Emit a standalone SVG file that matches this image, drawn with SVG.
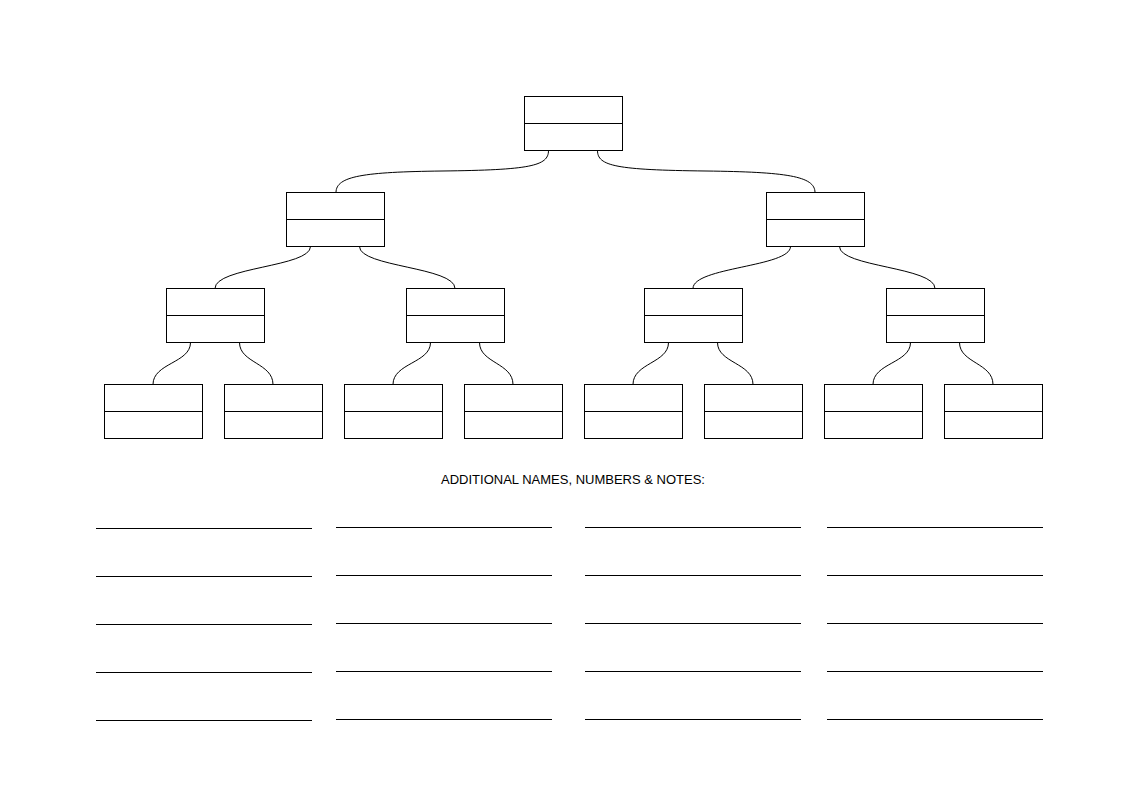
<svg xmlns="http://www.w3.org/2000/svg" width="1123" height="794" viewBox="0 0 1123 794">
<style>
.box rect{fill:#fff;stroke:#000;stroke-width:1}
.box line{stroke:#000;stroke-width:1}
#connectors path{fill:none;stroke:#000;stroke-width:1}
.rule{stroke:#000;stroke-width:1.2}
.title{font-family:"Liberation Sans",Arial,sans-serif;font-size:13px;fill:#000}
</style>
<rect x="0" y="0" width="1123" height="794" fill="#fff"/>
<g id="connectors">
<path d="M548.5,150.5 C548.5,166 530,170 442,171 C364,172 336,176 336,192.5"/>
<path d="M597.5,150.5 C597.5,166 616,170 706,171 C786,172 815,176 815,192.5"/>
<path d="M310.5,246.5 C310.5,267 215,267 215,288.5"/>
<path d="M359.5,246.5 C359.5,267 455,267 455,288.5"/>
<path d="M790.5,246.5 C790.5,267 693,267 693,288.5"/>
<path d="M839.5,246.5 C839.5,267 935,267 935,288.5"/>
<path d="M190.5,342.5 C190.5,363 153,363 153,384.5"/>
<path d="M239.5,342.5 C239.5,363 273,363 273,384.5"/>
<path d="M430.5,342.5 C430.5,363 393,363 393,384.5"/>
<path d="M479.5,342.5 C479.5,363 513,363 513,384.5"/>
<path d="M668.5,342.5 C668.5,363 633,363 633,384.5"/>
<path d="M717.5,342.5 C717.5,363 753,363 753,384.5"/>
<path d="M910.5,342.5 C910.5,363 873,363 873,384.5"/>
<path d="M959.5,342.5 C959.5,363 993,363 993,384.5"/>
</g>
<g id="n0" class="box"><rect x="524.5" y="96.5" width="98" height="54"/><line x1="524.5" y1="123.5" x2="622.5" y2="123.5"/></g>
<g id="n1" class="box"><rect x="286.5" y="192.5" width="98" height="54"/><line x1="286.5" y1="219.5" x2="384.5" y2="219.5"/></g>
<g id="n2" class="box"><rect x="766.5" y="192.5" width="98" height="54"/><line x1="766.5" y1="219.5" x2="864.5" y2="219.5"/></g>
<g id="n3" class="box"><rect x="166.5" y="288.5" width="98" height="54"/><line x1="166.5" y1="315.5" x2="264.5" y2="315.5"/></g>
<g id="n4" class="box"><rect x="406.5" y="288.5" width="98" height="54"/><line x1="406.5" y1="315.5" x2="504.5" y2="315.5"/></g>
<g id="n5" class="box"><rect x="644.5" y="288.5" width="98" height="54"/><line x1="644.5" y1="315.5" x2="742.5" y2="315.5"/></g>
<g id="n6" class="box"><rect x="886.5" y="288.5" width="98" height="54"/><line x1="886.5" y1="315.5" x2="984.5" y2="315.5"/></g>
<g id="n7" class="box"><rect x="104.5" y="384.5" width="98" height="54"/><line x1="104.5" y1="411.5" x2="202.5" y2="411.5"/></g>
<g id="n8" class="box"><rect x="224.5" y="384.5" width="98" height="54"/><line x1="224.5" y1="411.5" x2="322.5" y2="411.5"/></g>
<g id="n9" class="box"><rect x="344.5" y="384.5" width="98" height="54"/><line x1="344.5" y1="411.5" x2="442.5" y2="411.5"/></g>
<g id="n10" class="box"><rect x="464.5" y="384.5" width="98" height="54"/><line x1="464.5" y1="411.5" x2="562.5" y2="411.5"/></g>
<g id="n11" class="box"><rect x="584.5" y="384.5" width="98" height="54"/><line x1="584.5" y1="411.5" x2="682.5" y2="411.5"/></g>
<g id="n12" class="box"><rect x="704.5" y="384.5" width="98" height="54"/><line x1="704.5" y1="411.5" x2="802.5" y2="411.5"/></g>
<g id="n13" class="box"><rect x="824.5" y="384.5" width="98" height="54"/><line x1="824.5" y1="411.5" x2="922.5" y2="411.5"/></g>
<g id="n14" class="box"><rect x="944.5" y="384.5" width="98" height="54"/><line x1="944.5" y1="411.5" x2="1042.5" y2="411.5"/></g>
<text class="title" x="573" y="484" text-anchor="middle">ADDITIONAL NAMES, NUMBERS &amp; NOTES:</text>
<g id="notes">
<line class="rule" x1="96" y1="528.5" x2="312" y2="528.5"/>
<line class="rule" x1="96" y1="576.5" x2="312" y2="576.5"/>
<line class="rule" x1="96" y1="624.5" x2="312" y2="624.5"/>
<line class="rule" x1="96" y1="672.5" x2="312" y2="672.5"/>
<line class="rule" x1="96" y1="720.5" x2="312" y2="720.5"/>
<line class="rule" x1="336" y1="527.5" x2="552" y2="527.5"/>
<line class="rule" x1="336" y1="575.5" x2="552" y2="575.5"/>
<line class="rule" x1="336" y1="623.5" x2="552" y2="623.5"/>
<line class="rule" x1="336" y1="671.5" x2="552" y2="671.5"/>
<line class="rule" x1="336" y1="719.5" x2="552" y2="719.5"/>
<line class="rule" x1="585" y1="527.5" x2="801" y2="527.5"/>
<line class="rule" x1="585" y1="575.5" x2="801" y2="575.5"/>
<line class="rule" x1="585" y1="623.5" x2="801" y2="623.5"/>
<line class="rule" x1="585" y1="671.5" x2="801" y2="671.5"/>
<line class="rule" x1="585" y1="719.5" x2="801" y2="719.5"/>
<line class="rule" x1="827" y1="527.5" x2="1043" y2="527.5"/>
<line class="rule" x1="827" y1="575.5" x2="1043" y2="575.5"/>
<line class="rule" x1="827" y1="623.5" x2="1043" y2="623.5"/>
<line class="rule" x1="827" y1="671.5" x2="1043" y2="671.5"/>
<line class="rule" x1="827" y1="719.5" x2="1043" y2="719.5"/>
</g>
</svg>
